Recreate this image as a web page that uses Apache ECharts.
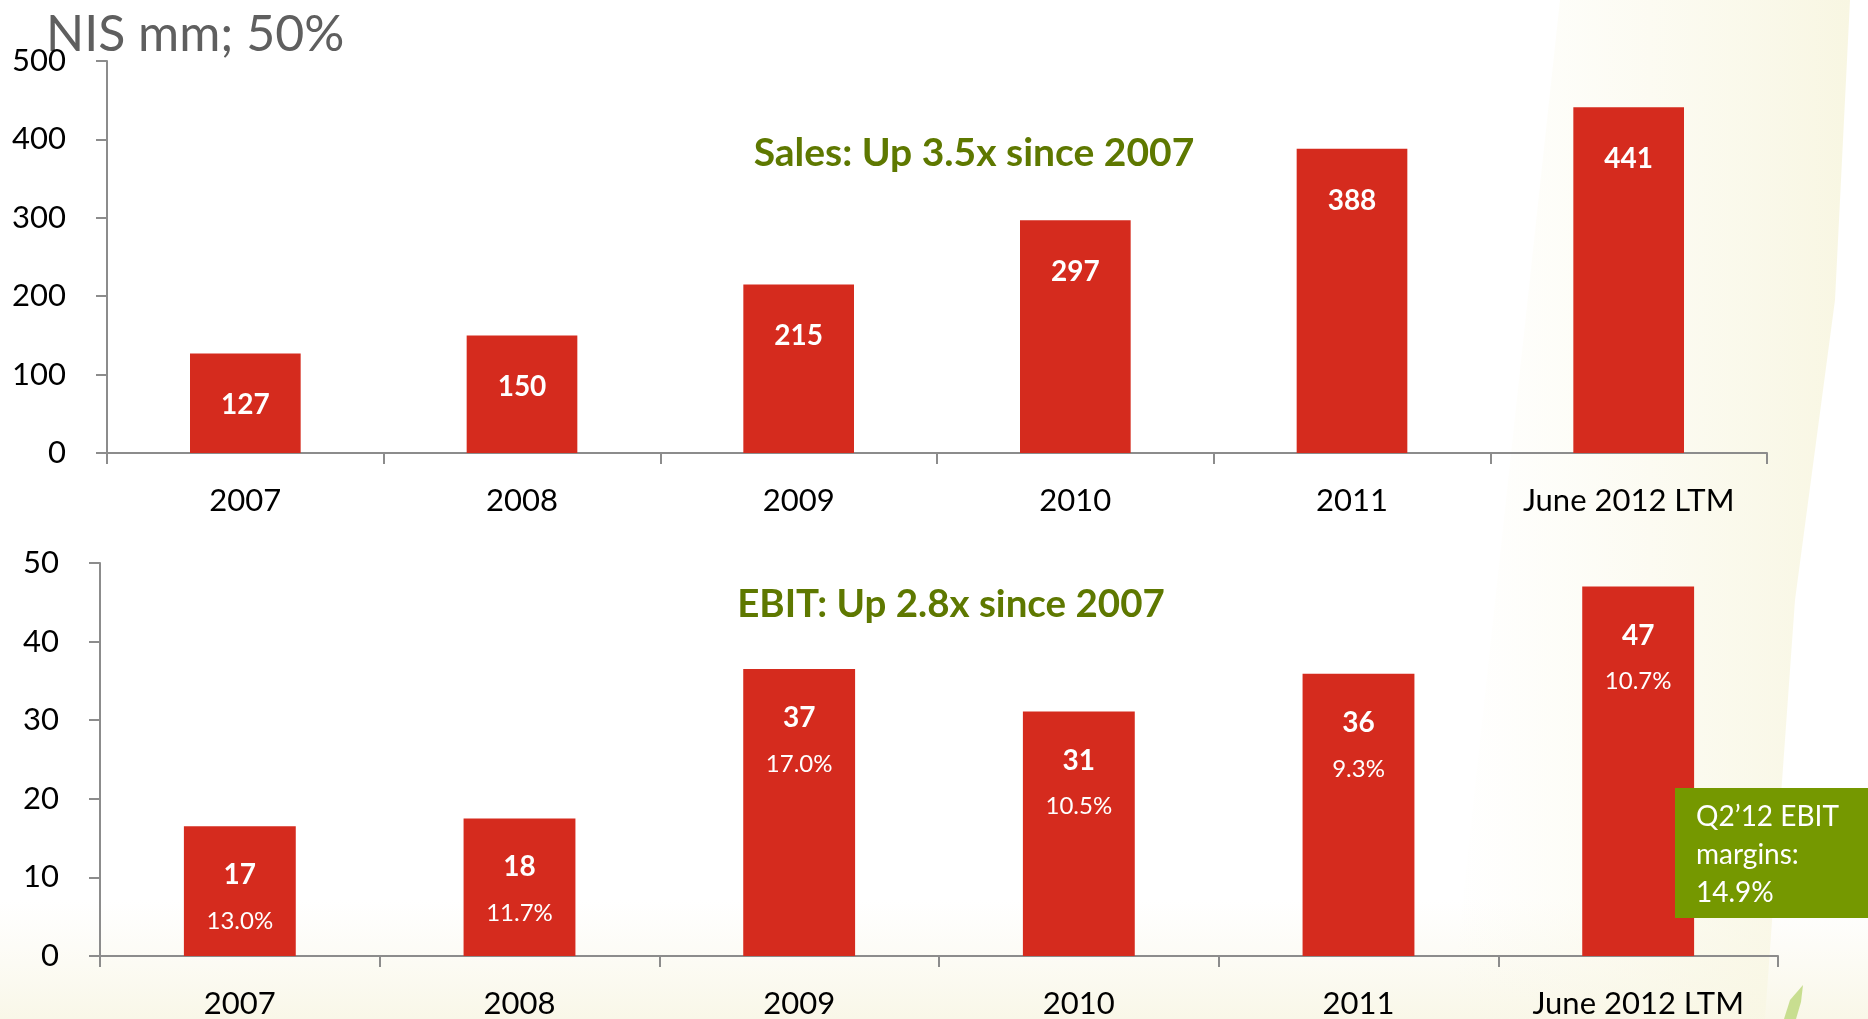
<!DOCTYPE html>
<html>
<head>
<meta charset="utf-8">
<script src="https://cdn.jsdelivr.net/npm/echarts@6/dist/echarts.min.js"></script>
<style>
html,body{margin:0;padding:0;background:#fff;}
#chart{width:1868px;height:1019px;}
</style>
</head>
<body>
<div id="chart"></div>
<script>
// ---- data ----
const categories = ['2007', '2008', '2009', '2010', '2011', 'June 2012 LTM'];
const sales = [127, 150, 215, 297, 388, 441];
const ebit = [16.5, 17.5, 36.5, 31.1, 35.9, 47.0];
const ebitMargins = ['13.0%', '11.7%', '17.0%', '10.5%', '9.3%', '10.7%'];
const salesTicks = { min: 0, max: 500, interval: 100 };
const ebitTicks = { min: 0, max: 50, interval: 10 };
const titleText = 'NIS mm; 50%';
const salesNote = 'Sales: Up 3.5x since 2007';
const ebitNote = 'EBIT: Up 2.8x since 2007';
const boxNote = ['Q2\u201912 EBIT', 'margins:', '14.9%'];

const FONT = 'Lato, "Open Sans", sans-serif';
const RED = '#D52B1E';
const AXIS = '#8C8C8C';

const chart = echarts.init(document.getElementById('chart'), null, { renderer: 'canvas' });

function xAxisCfg(grid) {
  return {
    type: 'category', gridIndex: grid, data: categories,
    axisLine: { show: true, lineStyle: { color: AXIS, width: 2 } },
    axisTick: { show: true, length: 11, lineStyle: { color: AXIS, width: 2 } },
    axisLabel: { color: '#000', fontSize: 31, fontFamily: FONT, margin: 32 }
  };
}
function yAxisCfg(grid, t) {
  return {
    type: 'value', gridIndex: grid, min: t.min, max: t.max, interval: t.interval,
    splitLine: { show: false },
    axisLine: { show: true, lineStyle: { color: AXIS, width: 2 } },
    axisTick: { show: true, length: 11, lineStyle: { color: AXIS, width: 2 } },
    axisLabel: { color: '#000', fontSize: 31, fontFamily: FONT, margin: 41 }
  };
}

const option = {
  backgroundColor: '#ffffff',
  animation: false,
  grid: [
    { left: 107, right: 101, top: 61, bottom: 566 },
    { left: 100, right: 90, top: 563, bottom: 63 }
  ],
  xAxis: [xAxisCfg(0), xAxisCfg(1)],
  yAxis: [yAxisCfg(0, salesTicks), yAxisCfg(1, ebitTicks)],
  series: [
    {
      type: 'bar', xAxisIndex: 0, yAxisIndex: 0, data: sales, barWidth: '40%',
      itemStyle: { color: RED },
      label: {
        show: true, position: 'insideTop', distance: 38,
        color: '#fff', fontWeight: 'bold', fontSize: 28, fontFamily: FONT
      }
    },
    {
      type: 'bar', xAxisIndex: 1, yAxisIndex: 1, data: ebit, barWidth: '40%',
      itemStyle: { color: RED },
      label: {
        show: true, position: 'insideTop', distance: 25,
        formatter: p => '{v|' + Math.round(p.value) + '}\n{p|' + ebitMargins[p.dataIndex] + '}',
        rich: {
          v: { color: '#fff', fontWeight: 'bold', fontSize: 28, fontFamily: FONT, lineHeight: 48 },
          p: { color: '#fff', fontSize: 24, fontFamily: FONT, lineHeight: 44 }
        }
      }
    }
  ],
  graphic: [
    {
      type: 'polygon', z: -10, silent: true,
      shape: { points: [[1560, 0], [1850, 0], [1835, 300], [1795, 600], [1765, 1019], [1450, 1019]] },
      style: {
        fill: new echarts.graphic.LinearGradient(0, 0, 1, 0, [
          { offset: 0, color: 'rgba(250,248,232,0)' },
          { offset: 1, color: 'rgba(248,246,226,1)' }
        ])
      }
    },
    {
      type: 'rect', z: -11, silent: true,
      shape: { x: 0, y: 900, width: 1868, height: 119 },
      style: {
        fill: new echarts.graphic.LinearGradient(0, 0, 0, 1, [
          { offset: 0, color: 'rgba(250,248,236,0)' },
          { offset: 1, color: 'rgba(249,247,232,1)' }
        ])
      }
    },
    {
      type: 'polygon', z: -5, silent: true,
      shape: { points: [[1784, 1019], [1790, 1000], [1803, 985], [1801, 1002], [1796, 1019]] },
      style: { fill: '#C8DE90' }
    },
    {
      type: 'text', left: 46, top: 10,
      style: { text: titleText, fill: '#5F5F5F', font: '50px ' + FONT }
    },
    {
      type: 'text', x: 974, y: 153,
      style: { text: salesNote, fill: '#5E7800', font: 'bold 39px ' + FONT, textAlign: 'center', textVerticalAlign: 'middle' }
    },
    {
      type: 'text', x: 951, y: 605,
      style: { text: ebitNote, fill: '#5E7800', font: 'bold 38.5px ' + FONT, textAlign: 'center', textVerticalAlign: 'middle' }
    },
    {
      type: 'group', x: 1675, y: 788, z: 100,
      children: [
        { type: 'rect', z: 100, shape: { x: 0, y: 0, width: 193, height: 130 }, style: { fill: '#759800' } },
        {
          type: 'text', z: 101, x: 21, y: 10,
          style: { text: boxNote.join('\n'), fill: '#fff', font: '28px ' + FONT, lineHeight: 38 }
        }
      ]
    }
  ]
};
chart.setOption(option);
</script>
</body>
</html>
